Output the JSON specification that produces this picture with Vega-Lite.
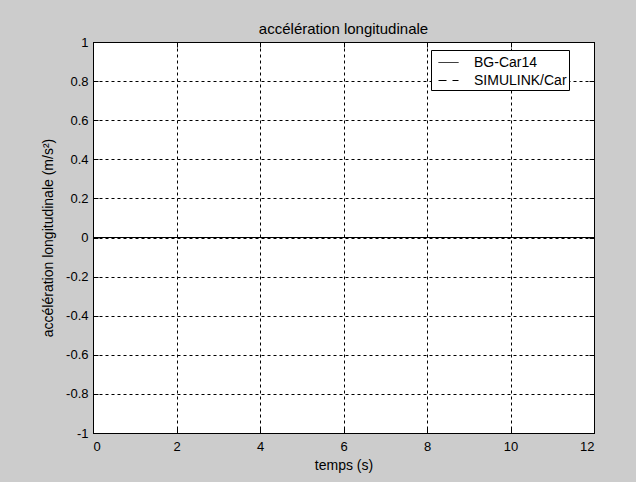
{
  "$schema": "https://vega.github.io/schema/vega-lite/v6.json",
  "autosize": "none",
  "width": 501,
  "height": 391,
  "padding": {"left": 93, "top": 42, "right": 42, "bottom": 49},
  "background": "#cccccc",
  "title": {"text": "accélération longitudinale", "font": "Liberation Sans", "fontSize": 15, "fontWeight": "normal", "color": "black", "offset": -1},
  "data": {"values": [
    {"t": 0, "a": 0, "serie": "BG-Car14"},
    {"t": 12, "a": 0, "serie": "BG-Car14"},
    {"t": 0, "a": 0, "serie": "SIMULINK/Car"},
    {"t": 12, "a": 0, "serie": "SIMULINK/Car"}
  ]},
  "layer": [
    {
      "mark": {"type": "line", "color": "black", "strokeWidth": 1},
      "encoding": {
        "x": {"field": "t", "type": "quantitative", "scale": {"domain": [0, 12], "nice": false},
              "axis": {"title": "temps (s)", "values": [0, 2, 4, 6, 8, 10, 12], "grid": true}},
        "y": {"field": "a", "type": "quantitative", "scale": {"domain": [-1, 1], "nice": false},
              "axis": {"title": "accélération longitudinale (m/s²)", "values": [-1, -0.8, -0.6, -0.4, -0.2, 0, 0.2, 0.4, 0.6, 0.8, 1], "grid": true,
                       "labelExpr": "replace(format(datum.value, '~g'), '\u2212', '-')"}},
        "strokeDash": {"field": "serie", "type": "nominal",
                       "scale": {"domain": ["BG-Car14", "SIMULINK/Car"], "range": [[1, 0], [8, 6]]},
                       "legend": {"title": null, "orient": "none", "legendX": 338, "legendY": 8}}
      }
    },
    {
      "mark": {"type": "line", "opacity": 0},
      "encoding": {
        "x": {"field": "t", "type": "quantitative", "scale": {"domain": [0, 12], "nice": false},
              "axis": {"title": null, "labels": false, "values": [0, 2, 4, 6, 8, 10, 12], "grid": false, "orient": "top"}},
        "y": {"field": "a", "type": "quantitative", "scale": {"domain": [-1, 1], "nice": false},
              "axis": {"title": null, "labels": false, "values": [-1, -0.8, -0.6, -0.4, -0.2, 0, 0.2, 0.4, 0.6, 0.8, 1], "grid": false, "orient": "right"}}
      }
    }
  ],
  "resolve": {"axis": {"x": "independent", "y": "independent"}},
  "config": {
    "view": {"fill": "white", "stroke": "black", "strokeWidth": 1},
    "axis": {
      "domainColor": "black",
      "tickColor": "black",
      "tickSize": -5,
      "labelFont": "Liberation Sans",
      "labelFontSize": 13,
      "labelColor": "black",
      "labelPadding": 10,
      "titleFont": "Liberation Sans",
      "titleFontSize": 14,
      "titleFontWeight": "normal",
      "titleColor": "black",
      "gridColor": "black",
      "gridDash": [3, 3],
      "gridOpacity": 1,
      "gridWidth": 1
    },
    "axisX": {"labelPadding": 12, "titlePadding": 5},
    "axisY": {"titlePadding": 10},
    "legend": {
      "fillColor": "white",
      "strokeColor": "black",
      "padding": 2,
      "symbolType": "stroke",
      "symbolStrokeColor": "black",
      "symbolStrokeWidth": 1,
      "symbolSize": 400,
      "symbolOffset": 5,
      "labelFont": "Liberation Sans",
      "labelFontSize": 14,
      "labelColor": "black",
      "labelOffset": 15,
      "rowPadding": -3
    }
  }
}
